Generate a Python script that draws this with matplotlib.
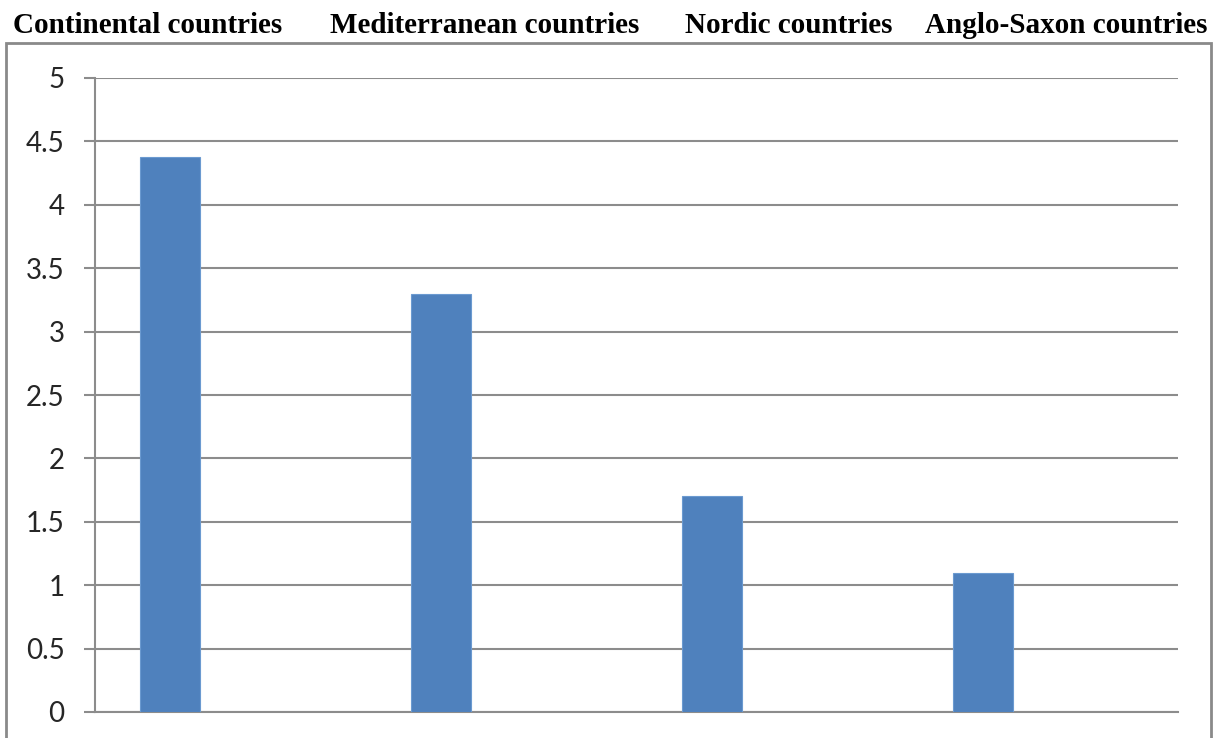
import matplotlib
matplotlib.use("Agg")
import matplotlib.pyplot as plt
from matplotlib.patches import Rectangle

# group names shown across the top and their values
groups = ["Continental countries", "Mediterranean countries",
          "Nordic countries", "Anglo-Saxon countries"]
values = [4.38, 3.3, 1.7, 1.1]
yticks = [0, 0.5, 1, 1.5, 2, 2.5, 3, 3.5, 4, 4.5, 5]
ytick_labels = ["0", "0.5", "1", "1.5", "2", "2.5", "3", "3.5", "4", "4.5", "5"]

W, H = 1215, 738
fig = plt.figure(figsize=(W / 100, H / 100), dpi=100)
ax = fig.add_axes([95 / W, 1 - 712 / H, (1178 - 95) / W, (712 - 78) / H])

grid_col = "#8c8c8c"
x = list(range(len(values)))
# first series of a clustered layout: bars sit left of the category centre
bar_w = 0.2216
ax.bar([i - bar_w for i in x], values, width=bar_w, color="#4f81bd",
       edgecolor="#6b9ad0", linewidth=0.8, zorder=3)

ax.set_xlim(-0.5, len(values) - 0.5)
ax.set_ylim(0, 5)
ax.set_yticks(yticks)
ax.set_yticklabels(ytick_labels, fontname="Lato", fontsize=20, color="#262626")
ax.set_xticks([])
ax.yaxis.grid(True, color=grid_col, linewidth=1.5, zorder=0)
ax.tick_params(axis="y", length=8, width=1.5, color=grid_col, pad=14)

for side in ["top", "right"]:
    ax.spines[side].set_visible(False)
ax.spines["left"].set_color(grid_col)
ax.spines["left"].set_linewidth(1.5)
ax.spines["bottom"].set_color(grid_col)
ax.spines["bottom"].set_linewidth(1.5)

# outer chart frame, runs off the bottom edge
frame = Rectangle((6 / W, -0.1), (1211 - 6) / W, 1.1 - 43 / H,
                  transform=fig.transFigure, fill=False,
                  edgecolor="#8a8a8a", linewidth=2, clip_on=False)
fig.patches.append(frame)

# bold headings above the chart
centers = [148, 484.5, 788.5, 1066]
for name, cx in zip(groups, centers):
    fig.text(cx / W, 1 - 33 / H, name, ha="center", va="baseline",
             fontname="Liberation Serif", fontweight="bold", fontsize=21)

fig.savefig("out.png", dpi=100)
